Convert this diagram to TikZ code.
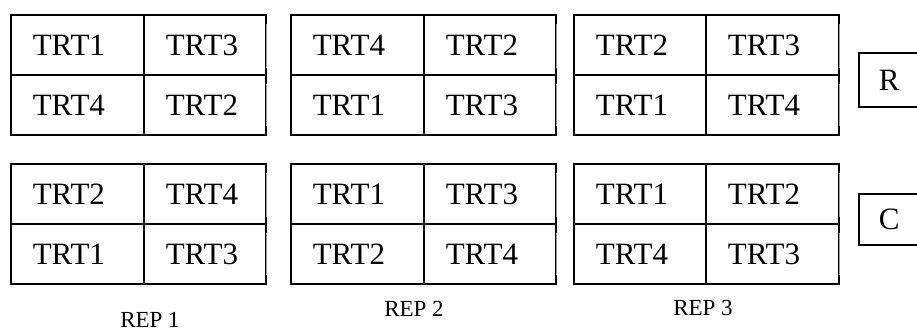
\documentclass[tikz,border=0pt]{standalone}
\usepackage{fontspec}
\setmainfont{Liberation Serif}
\begin{document}
\begin{tikzpicture}[x=1pt,y=-1pt,
  cell/.style={draw=black, line width=1.6pt, anchor=north west, minimum height=60pt,
    inner xsep=22pt, inner ysep=0pt, align=left, text height=20.5pt, text depth=0pt,
    font=\fontsize{31}{31}\selectfont},
  side/.style={draw=black, line width=1.6pt, anchor=north west, inner sep=0pt,
    text height=20.5pt, text depth=0pt, font=\fontsize{31}{31}\selectfont},
  replab/.style={inner sep=0pt, text height=15pt, text depth=0pt, font=\fontsize{23}{23}\selectfont},
  faint/.style={draw=black!40, line width=1.6pt},
  tick/.style={draw=black, line width=1.6pt}]
\useasboundingbox (0,0) rectangle (917,331);
% top row of blocks
\node[cell, text width=89pt] (T1a) at (10,14) {TRT1};
\node[cell, text width=78pt] (T1b) at (143,14) {TRT3};
\node[cell, text width=89pt] (T1c) at (10,74) {TRT4};
\node[cell, text width=78pt] (T1d) at (143,74) {TRT2};
\node[cell, text width=89pt] (T2a) at (290,14) {TRT4};
\node[cell, text width=88pt] (T2b) at (423,14) {TRT2};
\node[cell, text width=89pt] (T2c) at (290,74) {TRT1};
\node[cell, text width=88pt] (T2d) at (423,74) {TRT3};
\node[cell, text width=88pt] (T3a) at (573,14) {TRT2};
\node[cell, text width=89pt] (T3b) at (705,14) {TRT3};
\node[cell, text width=88pt] (T3c) at (573,74) {TRT1};
\node[cell, text width=89pt] (T3d) at (705,74) {TRT4};
% bottom row of blocks
\node[cell, text width=89pt] (B1a) at (10,163) {TRT2};
\node[cell, text width=78pt] (B1b) at (143,163) {TRT4};
\node[cell, text width=89pt] (B1c) at (10,223) {TRT1};
\node[cell, text width=78pt] (B1d) at (143,223) {TRT3};
\node[cell, text width=89pt] (B2a) at (290,163) {TRT1};
\node[cell, text width=88pt] (B2b) at (423,163) {TRT3};
\node[cell, text width=89pt] (B2c) at (290,223) {TRT2};
\node[cell, text width=88pt] (B2d) at (423,223) {TRT4};
\node[cell, text width=88pt] (B3a) at (573,163) {TRT1};
\node[cell, text width=89pt] (B3b) at (705,163) {TRT2};
\node[cell, text width=88pt] (B3c) at (573,223) {TRT4};
\node[cell, text width=89pt] (B3d) at (705,223) {TRT3};
% faint right edges with dark ticks
\foreach \p in {T1,T2,T3,B1,B2,B3}{
  \draw[faint] (\p b.north east) -- (\p d.south east);
  \draw[tick] (\p b.north east) -- ([yshift=-10pt]\p b.north east);
  \draw[tick] ([yshift=8pt]\p b.south east) -- ([yshift=-8pt]\p b.south east);
  \draw[tick] (\p d.south east) -- ([yshift=10pt]\p d.south east);
}
% side labels
\node[side, minimum width=61pt, minimum height=54pt] (R) at (858,52) {R};
\node[side, minimum width=61pt, minimum height=51pt] (C) at (858,193) {C};
% replicate labels
\node[replab] (rep1) at (150,319.5) {REP 1};
\node[replab] (rep2) at (414,309) {REP 2};
\node[replab] (rep3) at (703,308) {REP 3};
\end{tikzpicture}
\end{document}
